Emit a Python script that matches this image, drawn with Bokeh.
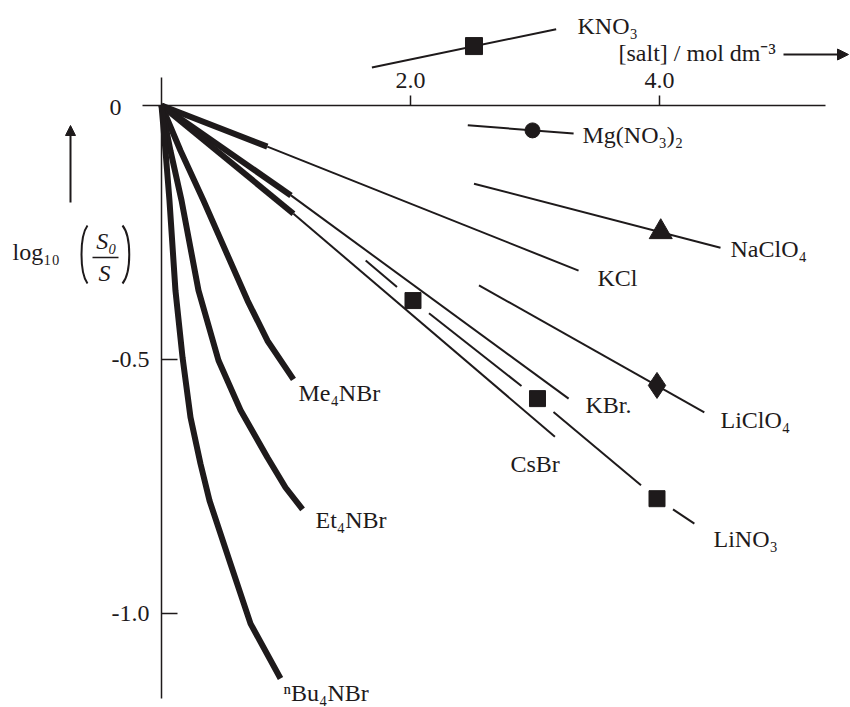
import numpy as np
from bokeh.plotting import figure
from bokeh.models import Range1d, Arrow, NormalHead, ColumnDataSource
from bokeh.core.properties import value
from bokeh.embed import file_html
from bokeh.resources import INLINE

# ---------------- data ----------------
# x: [salt] / mol dm^-3 ; y: log10(S0/S)
# salts with a measured range (thick) and a linear extrapolation (thin)
kcl_meas_x = [0.0, 0.85]
kcl_meas_y = [0.0, -0.081]
kcl_ext_x = [0.85, 3.35]
kcl_ext_y = [-0.081, -0.325]

kbr_meas_x = [0.0, 1.04]
kbr_meas_y = [0.0, -0.177]
kbr_ext_x = [1.04, 3.27]
kbr_ext_y = [-0.177, -0.577]

csbr_meas_x = [0.0, 1.06]
csbr_meas_y = [0.0, -0.213]
csbr_ext_x = [1.06, 3.16]
csbr_ext_y = [-0.213, -0.652]

# tetraalkylammonium bromides (thick curves)
me4nbr_x = [0.0, 0.153, 0.337, 0.691, 0.851, 1.060]
me4nbr_y = [0.0, -0.089, -0.187, -0.384, -0.463, -0.539]
et4nbr_x = [0.0, 0.072, 0.161, 0.297, 0.458, 0.635, 0.851, 0.996, 1.133]
et4nbr_y = [0.0, -0.089, -0.187, -0.364, -0.502, -0.600, -0.693, -0.752, -0.795]
bu4nbr_x = [0.0, 0.032, 0.064, 0.112, 0.169, 0.233, 0.313, 0.386, 0.554, 0.715, 0.956]
bu4nbr_y = [0.0, -0.089, -0.187, -0.364, -0.496, -0.614, -0.705, -0.778, -0.902, -1.020, -1.128]

# displaced single-point salts
kno3_line_x = [1.69, 3.17]
kno3_line_y = [0.075, 0.150]
kno3_pt_x = [2.51]
kno3_pt_y = [0.117]

mg_line_x = [2.46, 3.31]
mg_line_y = [-0.039, -0.055]
mg_pt_x = [2.98]
mg_pt_y = [-0.049]

naclo4_line_x = [2.51, 4.49]
naclo4_line_y = [-0.154, -0.280]
naclo4_pt_x = [4.01]
naclo4_pt_y = [-0.249]

liclo4_line_x = [2.55, 4.36]
liclo4_line_y = [-0.354, -0.604]
liclo4_pt_x = [3.98]
liclo4_pt_y = [-0.551]

lino3_x = [1.64, 2.02, 3.02, 3.98, 4.28]
lino3_y = [-0.305, -0.384, -0.577, -0.774, -0.823]
lino3_pt_x = [2.02, 3.02, 3.98]
lino3_pt_y = [-0.384, -0.577, -0.774]

x_ticks = [2.0, 4.0]
x_tick_labels = ["2.0", "4.0"]
y_ticks = [-0.5, -1.0]
y_tick_labels = ["-0.5", "-1.0"]

series_names = ["KNO₃", "Mg(NO₃)₂", "NaClO₄", "KCl", "LiClO₄", "KBr.",
                "CsBr", "LiNO₃", "Me₄NBr", "Et₄NBr", "ⁿBu₄NBr"]

# ---------------- layout / style ----------------
INK = "#1e1a1b"
FONT = value("Liberation Serif")
FS = "24px"
W, H = 850, 707


def X(px):  # page pixel -> data x (layout helper for annotations)
    return (px - 161.0) / 124.5


def Y(py):  # page pixel -> data y
    return -(py - 105.0) / 508.0


p = figure(width=W, height=H,
           x_range=Range1d(X(0), X(W)), y_range=Range1d(Y(H), Y(0)),
           output_backend="svg", toolbar_location=None, min_border=0,
           x_axis_type=None, y_axis_type=None,
           background_fill_color="white", border_fill_color="white")
p.outline_line_color = None

# axes drawn through the origin
p.line([X(142), X(825)], [0, 0], line_color=INK, line_width=1.5)
p.line([0, 0], [Y(77), Y(698)], line_color=INK, line_width=1.5)
xt_len = 10 / 508.0
yt_len = 16 / 124.5
p.segment(x0=x_ticks, y0=[0] * len(x_ticks), x1=x_ticks, y1=[xt_len] * len(x_ticks),
          line_color=INK, line_width=1.5)
p.segment(x0=[0] * len(y_ticks), y0=y_ticks, x1=[yt_len] * len(y_ticks), y1=y_ticks,
          line_color=INK, line_width=1.5)

tick_kw = dict(text_font=FONT, text_font_size=FS, text_color=INK, text_baseline="middle")
p.text(x=x_ticks, y=[Y(80)] * len(x_ticks), text=x_tick_labels, text_align="center", **tick_kw)
p.text(x=[X(149)] * len(y_ticks), y=y_ticks, text=y_tick_labels, text_align="right", **tick_kw)
p.text(x=[X(121)], y=[Y(107)], text=["0"], text_align="right", **tick_kw)

# axis titles
p.text(x=[X(618)], y=[Y(52)], text=["[salt] / mol dm⁻³"], text_align="left", **tick_kw)
p.add_layout(Arrow(end=NormalHead(size=11, fill_color=INK, line_color=INK, line_width=1),
                   x_start=X(783), y_start=Y(54), x_end=X(848), y_end=Y(54),
                   line_color=INK, line_width=2))
p.add_layout(Arrow(end=NormalHead(size=10, fill_color=INK, line_color=INK, line_width=1),
                   x_start=X(70), y_start=Y(202), x_end=X(70), y_end=Y(125),
                   line_color=INK, line_width=2))
p.text(x=[X(12)], y=[Y(251)], text=["log₁₀"], text_align="left", **tick_kw)
p.text(x=[X(106)], y=[Y(240)], text=["S₀"], text_align="center",
       text_font_style="italic", **tick_kw)
p.text(x=[X(104)], y=[Y(272)], text=["S"], text_align="center",
       text_font_style="italic", **tick_kw)
p.segment(x0=[X(92)], y0=[Y(257)], x1=[X(118)], y1=[Y(257)], line_color=INK, line_width=1.5)
p.bezier(x0=[X(87), X(122)], y0=[Y(225)] * 2, x1=[X(87), X(122)], y1=[Y(283)] * 2,
         cx0=[X(79), X(131)], cy0=[Y(236)] * 2, cx1=[X(79), X(131)], cy1=[Y(272)] * 2,
         line_color=INK, line_width=2)

THIN, THICK = 2, 6
# measured (thick) + extrapolated (thin)
for mx, my, ex, ey in [(kcl_meas_x, kcl_meas_y, kcl_ext_x, kcl_ext_y),
                       (kbr_meas_x, kbr_meas_y, kbr_ext_x, kbr_ext_y),
                       (csbr_meas_x, csbr_meas_y, csbr_ext_x, csbr_ext_y)]:
    p.line(ex, ey, line_color=INK, line_width=THIN)
    p.line(mx, my, line_color=INK, line_width=THICK)

for cx_, cy_ in [(me4nbr_x, me4nbr_y), (et4nbr_x, et4nbr_y), (bu4nbr_x, bu4nbr_y)]:
    p.line(cx_, cy_, line_color=INK, line_width=THICK, line_join="round")

for lx, ly in [(kno3_line_x, kno3_line_y), (mg_line_x, mg_line_y),
               (naclo4_line_x, naclo4_line_y), (liclo4_line_x, liclo4_line_y)]:
    p.line(lx, ly, line_color=INK, line_width=THIN)

# LiNO3: line broken around its markers
gap = 16 / 124.5
bounds = [lino3_x[0]]
for mx in lino3_pt_x:
    bounds += [mx - gap, mx + gap]
bounds.append(lino3_x[-1])
seg_xs, seg_ys = [], []
for a, b in zip(bounds[0::2], bounds[1::2]):
    xs = [a] + [v for v in lino3_x if a < v < b] + [b]
    seg_xs.append(xs)
    seg_ys.append(list(np.interp(xs, lino3_x, lino3_y)))
p.multi_line(seg_xs, seg_ys, line_color=INK, line_width=THIN)

mk = dict(fill_color=INK, line_color=INK)
p.scatter(kno3_pt_x, kno3_pt_y, marker="square", size=17, **mk)
p.scatter(mg_pt_x, mg_pt_y, marker="circle", size=15, **mk)
p.scatter(naclo4_pt_x, naclo4_pt_y, marker="triangle", size=23, **mk)
p.scatter(liclo4_pt_x, liclo4_pt_y, marker="diamond", size=26, **mk)
p.scatter(lino3_pt_x, lino3_pt_y, marker="square", size=16, **mk)

# series labels (positions are layout)
label_px = [577, 582, 730, 597, 720, 585, 510, 713, 298, 315, 283]
label_py = [25, 134, 248, 277, 419, 404, 463, 538, 392, 519, 692]
lab_src = ColumnDataSource(dict(x=[X(v) for v in label_px], y=[Y(v) for v in label_py],
                                text=series_names))
p.text(x="x", y="y", text="text", source=lab_src, text_align="left", **tick_kw)

open("out.html", "w").write(file_html(p, INLINE))
